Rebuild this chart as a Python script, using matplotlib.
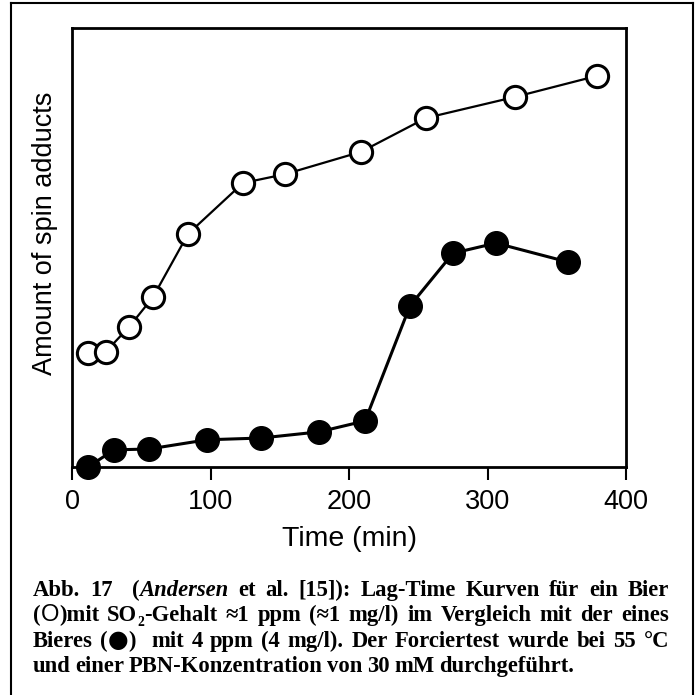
import matplotlib
matplotlib.use("Agg")
import matplotlib.pyplot as plt
from matplotlib.lines import Line2D

# Lag-time curves: spin adduct amount vs. time
time_low_so2 = [11.6, 24.5, 41.2, 58.5, 83.8, 123.5, 153.8, 208.7, 255.6, 319.9, 379.1]
adducts_low_so2 = [26.0, 26.3, 31.9, 38.7, 53.1, 64.7, 66.7, 71.8, 79.5, 84.3, 89.1]

time_high_so2 = [11.6, 30.3, 55.6, 97.5, 136.5, 178.3, 211.6, 244.0, 275.1, 306.1, 358.1]
adducts_high_so2 = [0.0, 3.9, 4.1, 6.2, 6.6, 8.0, 10.5, 36.7, 48.7, 51.0, 46.7]

x_ticks = [0, 100, 200, 300, 400]

# caption: each word is a list of runs, "it" = italic, "sub" = subscript,
# "open"/"dot" = the symbol glyphs
caption_words = [
    [[("Abb.", None)], [("17", None)], [("", None)],
     [("(", None), ("Andersen", "it")], [("et", None)], [("al.", None)],
     [("[15]):", None)], [("Lag-Time", None)], [("Kurven", None)],
     [("für", None)], [("ein", None)], [("Bier", None)]],
    [[("(", None), ("O", "open"), (")mit", None)],
     [("SO", None), ("2", "sub"), ("-Gehalt", None)],
     [("≈1", None)], [("ppm", None)], [("(≈1", None)], [("mg/l)", None)],
     [("im", None)], [("Vergleich", None)], [("mit", None)], [("der", None)],
     [("eines", None)]],
    [[("Bieres", None)], [("(", None), ("●", "dot"), (")", None)],
     [("", None)], [("mit", None)], [("4", None)], [("ppm", None)],
     [("(4", None)], [("mg/l).", None)], [("Der", None)],
     [("Forciertest", None)], [("wurde", None)], [("bei", None)],
     [("55", None)], [("°C", None)]],
    [[("und", None)], [("einer", None)], [("PBN-Konzentration", None)],
     [("von", None)], [("30", None)], [("mM", None)],
     [("durchgeführt.", None)]],
]

W, H = 698, 695
fig = plt.figure(figsize=(W / 100, H / 100), dpi=100)

ax = fig.add_axes([72 / W, 1 - 467 / H, 554 / W, 439 / H])
ax.plot(time_low_so2, adducts_low_so2, "-o", color="black", lw=1.6,
        ms=16, mfc="white", mec="black", mew=2.2, zorder=3)
ax.plot(time_high_so2, adducts_high_so2, "-o", color="black", lw=2.2,
        ms=17, mfc="black", mec="black", zorder=3, clip_on=False)

ax.set_xlim(0, 400)
ax.set_ylim(0, 100)
ax.set_xticks(x_ticks)
ax.set_yticks([])
ax.tick_params(axis="x", direction="out", length=9, width=1.5, pad=7,
               labelsize=19.5)
for lbl in ax.get_xticklabels():
    lbl.set_family("Liberation Sans")
for sp in ax.spines.values():
    sp.set_linewidth(2)

ax.set_xlabel("Time (min)", family="Liberation Sans", fontsize=20.5, labelpad=8)
fig.text(45 / W, 1 - 233 / H, "Amount of spin adducts", family="Liberation Sans",
         fontsize=19.5, rotation=90, ha="center", va="center")

# frame around the whole figure, open at the bottom
frame_kw = dict(color="black", lw=1.5, transform=fig.transFigure)
x0, x1, y_top = 11 / W, 693 / W, 1 - 3 / H
fig.add_artist(Line2D([x0, x0], [0, y_top], **frame_kw))
fig.add_artist(Line2D([x0, x1], [y_top, y_top], **frame_kw))
fig.add_artist(Line2D([x1, x1], [0, y_top], **frame_kw))

# caption, set word by word and justified between left and right margins
renderer = fig.canvas.get_renderer()
cap_size = 16.3
cap_left, cap_right = 33, 669
baselines = [596, 621, 647, 672]
run_style = {
    None: dict(family="Liberation Serif", weight="bold", fontsize=cap_size),
    "it": dict(family="Liberation Serif", weight="bold", style="italic",
               fontsize=cap_size),
    "sub": dict(family="Liberation Serif", weight="bold", fontsize=cap_size * 0.6),
    "open": dict(family="Liberation Sans", fontsize=cap_size * 1.05),
    "dot": dict(family="DejaVu Sans", fontsize=cap_size * 1.05),
}
run_dy = {"sub": -5}

for li, (words, base) in enumerate(zip(caption_words, baselines)):
    placed = []
    for word in words:
        runs = []
        for s, kind in word:
            t = fig.text(0, 0, s, va="baseline", ha="left", **run_style[kind])
            w = t.get_window_extent(renderer).width if s else 0
            runs.append((t, w, run_dy.get(kind, 0)))
        placed.append(runs)
    word_w = [sum(w for _, w, _ in runs) for runs in placed]
    space = 0.2 * cap_size * 100 / 72
    if li < len(caption_words) - 1:
        space = (cap_right - cap_left - sum(word_w)) / (len(words) - 1)
    x = cap_left
    for runs, ww in zip(placed, word_w):
        for t, w, dy in runs:
            t.set_position((x / W, 1 - (base - dy) / H))
            x += w
        x += space

fig.savefig("out.png", dpi=100)
